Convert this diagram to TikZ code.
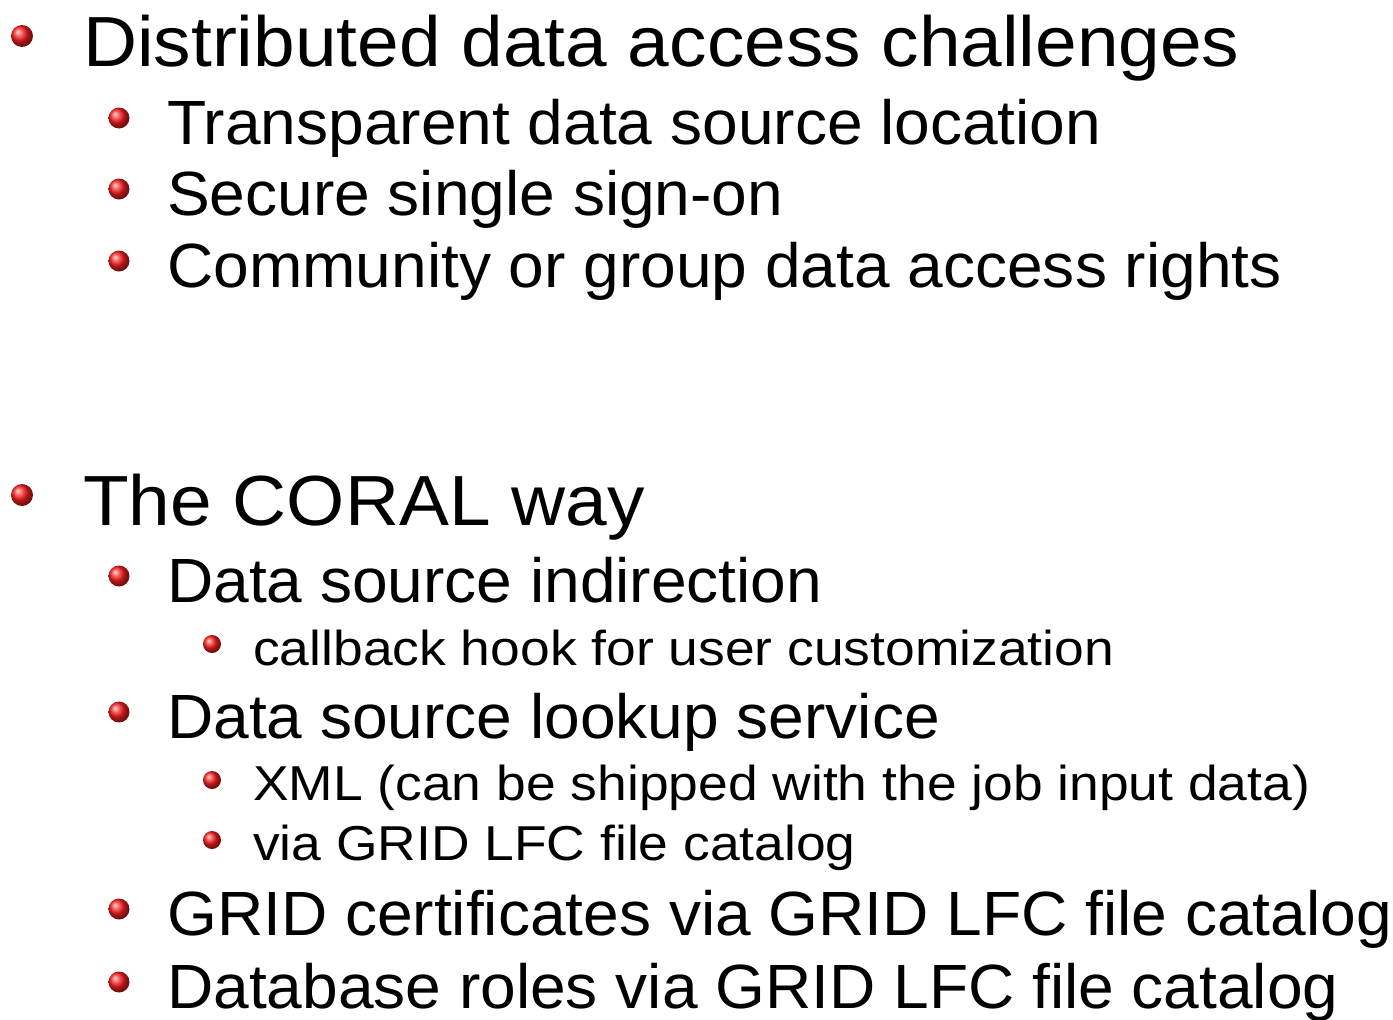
\documentclass[tikz,border=0pt]{standalone}
\usepackage{fontspec}
\setmainfont{Liberation Sans}
\newfontfamily\itemfonta[FakeStretch=1.054]{Liberation Sans}
\newfontfamily\itemfontb[FakeStretch=1.025]{Liberation Sans}
\newfontfamily\itemfontc[FakeStretch=1.09]{Liberation Sans}
\begin{document}
\begin{tikzpicture}[x=1pt,y=-1pt,
    topitem/.style={anchor=base west,inner sep=0pt,font=\itemfonta\fontsize{71}{80}\selectfont},
    subitem/.style={anchor=base west,inner sep=0pt,font=\itemfontb\fontsize{62.5}{70}\selectfont},
    subsubitem/.style={anchor=base west,inner sep=0pt,font=\itemfontc\fontsize{49}{56}\selectfont},
    bullet/.style={ball color=red!88!white}]
    \useasboundingbox (0,0) rectangle (1393,1020);

    % first block: challenges
    \shade[bullet] (22,36) circle(11pt);
    \node[topitem] (challenges) at (83,66) {Distributed data access challenges};
    \shade[bullet] (119,118) circle(10.5pt);
    \node[subitem] (transparent) at (167,144) {Transparent data source location};
    \shade[bullet] (119,189) circle(10.5pt);
    \node[subitem] (signon) at (167,215) {Secure single sign-on};
    \shade[bullet] (119,261) circle(10.5pt);
    \node[subitem] (rights) at (167,287) {Community or group data access rights};

    % second block: the CORAL way
    \shade[bullet] (22,495) circle(11pt);
    \node[topitem] (coral) at (83,525) {The CORAL way};
    \shade[bullet] (119,576) circle(10.5pt);
    \node[subitem] (indirection) at (167,602) {Data source indirection};
    \shade[bullet] (212,644) circle(9pt);
    \node[subsubitem] (callback) at (253,665) {callback hook for user customization};
    \shade[bullet] (119,712) circle(10.5pt);
    \node[subitem] (lookup) at (167,738) {Data source lookup service};
    \shade[bullet] (212,780) circle(9pt);
    \node[subsubitem] (xml) at (253,800) {XML (can be shipped with the job input data)};
    \shade[bullet] (212,840) circle(9pt);
    \node[subsubitem] (lfc) at (253,860) {via GRID LFC file catalog};
    \shade[bullet] (119,909) circle(10.5pt);
    \node[subitem] (certificates) at (167,935) {GRID certificates via GRID LFC file catalog};
    \shade[bullet] (119,982) circle(10.5pt);
    \node[subitem] (roles) at (167,1008) {Database roles via GRID LFC file catalog};
\end{tikzpicture}
\end{document}
